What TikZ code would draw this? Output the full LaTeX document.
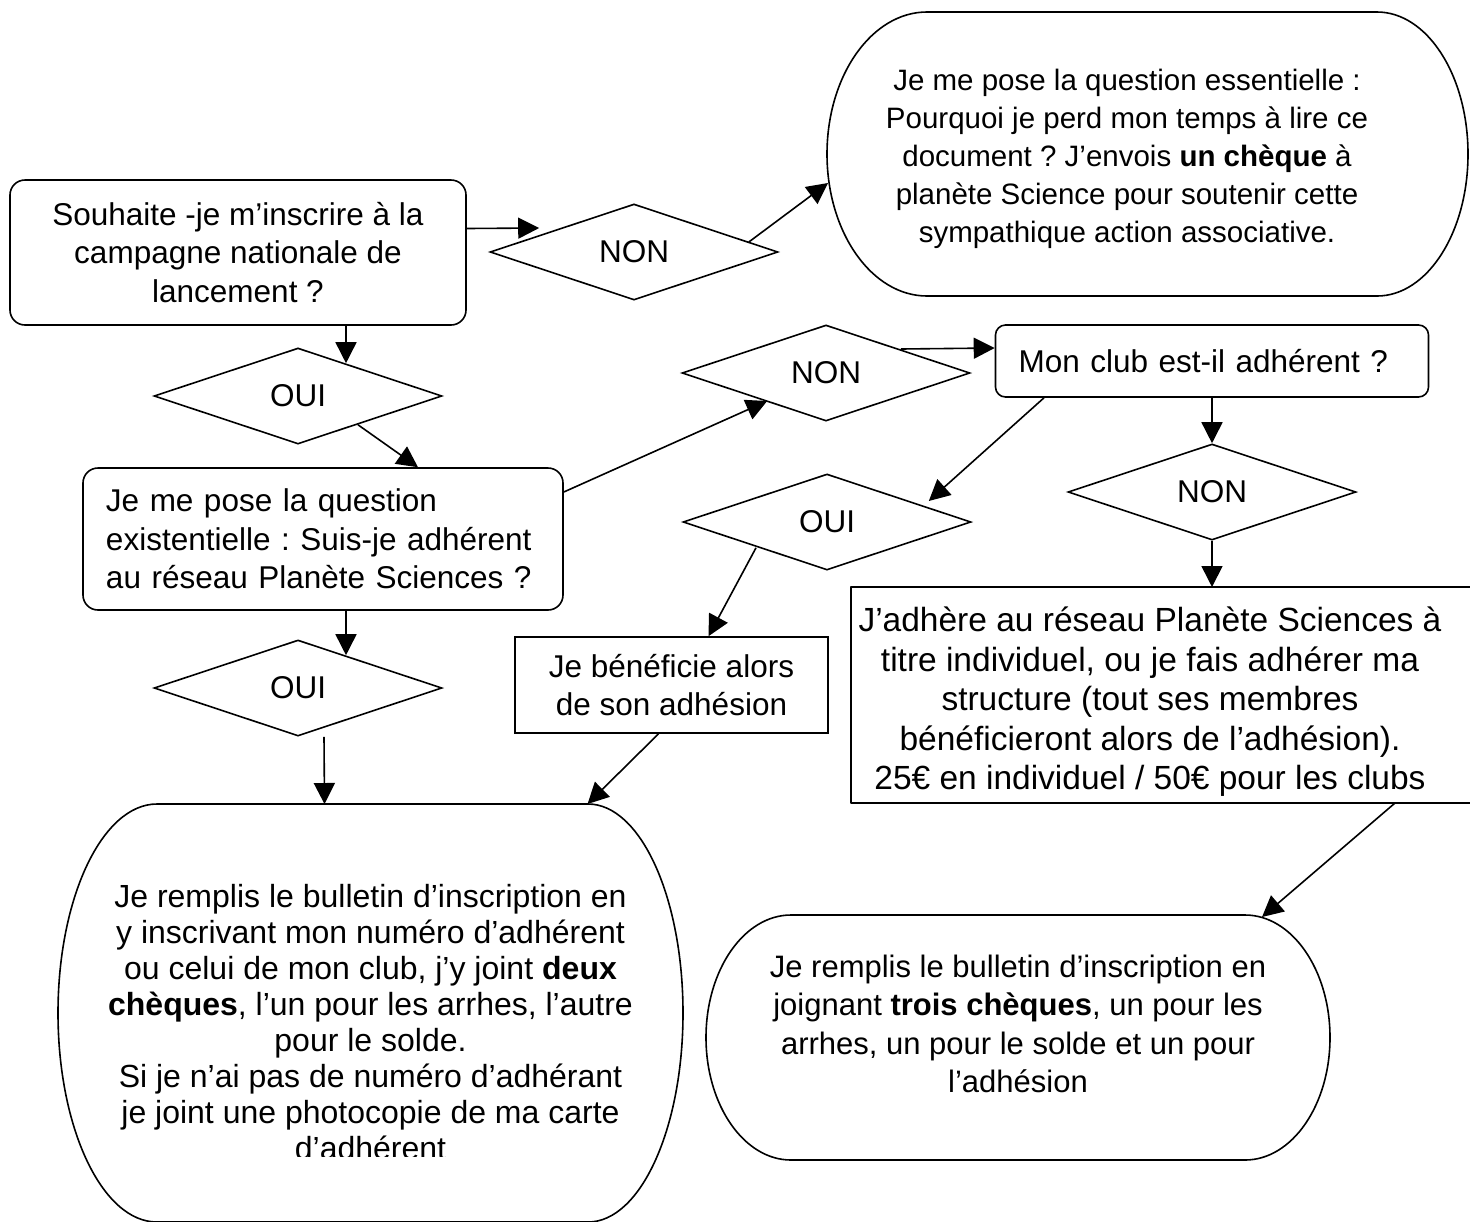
\documentclass[tikz,border=0pt]{standalone}
\usepackage{fontspec}
\setmainfont{Liberation Sans}
\usetikzlibrary{positioning, shapes.geometric, arrows.meta, calc}

\begin{document}
\frenchspacing
\begin{tikzpicture}[
  x=1bp, y=-1bp,
  every node/.style={font=\fontsize{31.5bp}{38.5bp}\selectfont, inner sep=0pt},
  question/.style={rectangle, rounded corners=15bp, draw, line width=1.6bp, align=center},
  choice/.style={diamond, draw, line width=1.6bp, minimum width=288bp, minimum height=96bp},
  plainbox/.style={rectangle, draw, line width=1.6bp, align=center},
  bubble/.style={rectangle, align=center},
  outline/.style={line width=1.6bp, line join=round},
  link/.style={-{Triangle[length=21bp, width=21bp]}, line width=1.6bp},
]
\useasboundingbox (0,0) rectangle (1470,1221);
\clip (0,0) rectangle (1470,1221);

%%% Nodes
\node[question, minimum width=456bp, minimum height=145bp] (q1) at (238,252.5)
  {Souhaite -je m’inscrire à la\\campagne nationale de\\lancement ?};
\node[choice] (non1) at (634,252) {NON};
\node[bubble, font=\fontsize{29.5bp}{38bp}\selectfont] (ess) at (1127,159)
  {Je me pose la question essentielle :\\Pourquoi je perd mon temps à lire ce\\document ? J’envois \textbf{un chèque} à\\planète Science pour soutenir cette\\sympathique action associative.};
\node[choice] (oui1) at (298,396) {OUI};
\node[question, align=left, text width=434bp, inner xsep=23bp, minimum height=142bp] (q2) at (323,539)
  {Je me pose la question\\existentielle : Suis-je adhérent\\au réseau Planète Sciences ?};
\node[choice] (non2) at (826,373) {NON};
\node[question, rounded corners=10bp, align=left, text width=387bp, inner xsep=23bp, minimum height=72bp] (club) at (1212,361)
  {Mon club est-il adhérent ?};
\node[choice] (oui3) at (827,522) {OUI};
\node[choice] (non3) at (1212,492) {NON};
\node[bubble, font=\fontsize{33.5bp}{39.5bp}\selectfont] (adh) at (1150,702)
  {J’adhère au réseau Planète Sciences à\\titre individuel, ou je fais adhérer ma\\structure (tout ses membres\\bénéficieront alors de l’adhésion).\\25€ en individuel / 50€ pour les clubs};
\node[plainbox, minimum width=313bp, minimum height=96bp] (benef) at (671.5,685)
  {Je bénéficie alors\\de son adhésion};
\node[choice] (oui2) at (298,688) {OUI};
\begin{scope}
  \clip (0,0) rectangle (1470,1156);
  \node[bubble, font=\fontsize{32bp}{36bp}\selectfont] (rem1) at (370.5,1022)
    {Je remplis le bulletin d’inscription en\\y inscrivant mon numéro d’adhérent\\ou celui de mon club, j’y joint \textbf{deux}\\\textbf{chèques}, l’un pour les arrhes, l’autre\\pour le solde.\\Si je n’ai pas de numéro d’adhérant\\je joint une photocopie de ma carte\\d’adhérent};
\end{scope}
\node[bubble, font=\fontsize{31bp}{38.5bp}\selectfont] (rem2) at (1018,1024)
  {Je remplis le bulletin d’inscription en\\joignant \textbf{trois chèques}, un pour les\\arrhes, un pour le solde et un pour\\l’adhésion};

%%% Outlines
\draw[outline, shift={(ess.center)}] (-200,-147) -- (250,-147)
  arc[start angle=90, end angle=-90, x radius=91bp, y radius=142bp] -- (-200,137)
  arc[start angle=270, end angle=90, x radius=100bp, y radius=142bp] -- cycle;
\draw[outline, shift={(adh.center)}] (-299,-115) rectangle (323,101);
\draw[outline, shift={(rem1.center)}] (-213.5,-218) -- (217.5,-218)
  arc[start angle=90, end angle=-90, x radius=95bp, y radius=209bp] -- (-213.5,200)
  arc[start angle=270, end angle=90, x radius=99bp, y radius=209bp] -- cycle;
\draw[outline, shift={(rem2.center)}] (-227,-109) -- (227,-109)
  arc[start angle=90, end angle=-90, x radius=85bp, y radius=122.5bp] -- (-227,136)
  arc[start angle=270, end angle=90, x radius=85bp, y radius=122.5bp] -- cycle;

%%% Arrows
\draw[link] ($(q1.east)+(0,-24)$) -- ($(non1.west)+(50,-24)$);
\draw[link] ($(non1.east)+(-30,-10)$) -- ($(ess.center)+(-299,24)$);
\draw[link] ($(q1.south)+(108,0)$) -- ($(oui1.north)+(48,16)$);
\draw[link] ($(oui1.south)+(60,-20)$) -- ($(q2.north)+(95,0)$);
\draw[link] ($(q2.east)+(0,-47)$) -- ($(non2.west)+(86,28)$);
\draw[link] ($(non2.east)+(-70,-24)$) -- ($(club.west)+(0,-13)$);
\draw[link] ($(club.south)+(-168,0)$) -- ($(oui3.east)+(-43,-21)$);
\draw[link] (club.south) -- (non3.north);
\draw[link] (non3.south) -- ($(adh.center)+(62,-115)$);
\draw[link] ($(oui3.south)+(-71,-23)$) -- ($(benef.north)+(37,0)$);
\draw[link] ($(benef.south)+(-13,0)$) -- ($(rem1.center)+(217,-218)$);
\draw[link] ($(q2.south)+(23,0)$) -- ($(oui2.north)+(48,16)$);
\draw[link] ($(oui2.south)+(26,0)$) -- ($(rem1.center)+(-46,-218)$);
\draw[link] ($(adh.center)+(245,101)$) -- ($(rem2.center)+(244,-107)$);

\end{tikzpicture}
\end{document}
